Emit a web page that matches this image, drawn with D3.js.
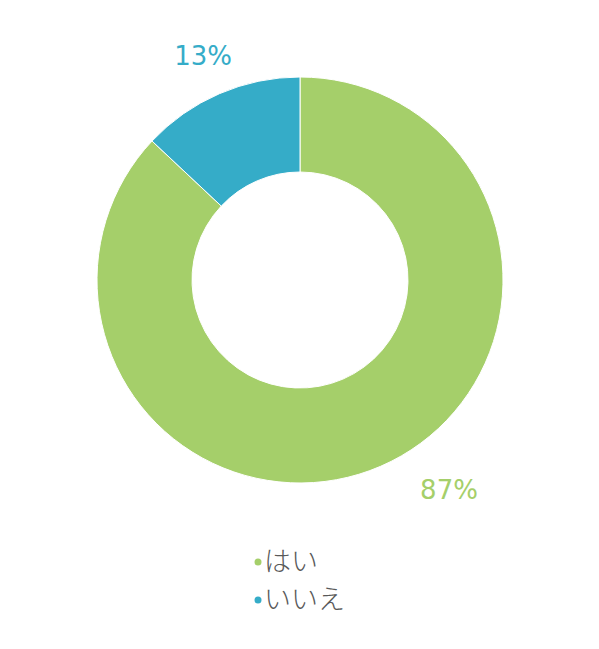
<!DOCTYPE html>
<meta charset="utf-8">
<script src="https://d3js.org/d3.v7.min.js"></script>
<style>
	body{
		margin:0;
		background:#fff;
		font-family: 'DejaVu Sans', 'Noto Sans CJK JP', sans-serif;
	}
</style>
<div id="chart"></div>
<script>
	var categories = ["はい","いいえ"]
	var values = [87,13]
	var colors = ["#A5CF6A","#35ACC8"]

	var w = 599
	var h = 649
	var cx = 300
	var cy = 280
	var outerR = 203
	var innerR = 108

	var svg = d3.select("#chart").append("svg").attr("width",w).attr("height",h)

	var pie = d3.pie().sort(null).value(function(d){return d})
	var arcs = pie(values)
	var arc = d3.arc().innerRadius(innerR).outerRadius(outerR)

	var g = svg.append("g").attr("transform","translate("+cx+","+cy+")")
	g.selectAll("path")
		.data(arcs)
		.join("path")
		.attr("d",arc)
		.attr("fill",function(d,i){return colors[i]})
		.attr("stroke","#fff")
		.attr("stroke-width",1)

	// percentage labels outside the ring (excel "best fit" style)
	var labelShift = [-0.21,0]   // angle nudge per label
	var labelDist = [outerR+54,outerR+41]
	g.selectAll(".pct")
		.data(arcs)
		.join("text")
		.attr("class","pct")
		.attr("transform",function(d,i){
			var a = (d.startAngle+d.endAngle)/2+labelShift[i]
			var r = labelDist[i]
			return "translate("+(Math.sin(a)*r)+","+(-Math.cos(a)*r)+")"
		})
		.attr("text-anchor","middle")
		.attr("dy","0.36em")
		.attr("fill",function(d,i){return colors[i]})
		.style("font-size","26px")
		.text(function(d){return d.data+"%"})

	// legend
	var legend = svg.append("g").attr("transform","translate(258,561)")
	var item = legend.selectAll("g")
		.data(categories)
		.join("g")
		.attr("transform",function(d,i){return "translate(0,"+(i*38)+")"})
	item.append("circle").attr("r",3.5).attr("cx",0).attr("cy",1)
		.attr("fill",function(d,i){return colors[i]})
	item.append("text").attr("x",6).attr("dy","0.38em")
		.attr("fill","#595959")
		.style("font-size","27px")
		.style("font-weight","300")
		.style("font-family","'Noto Sans CJK JP', sans-serif")
		.text(function(d){return d})
</script>
